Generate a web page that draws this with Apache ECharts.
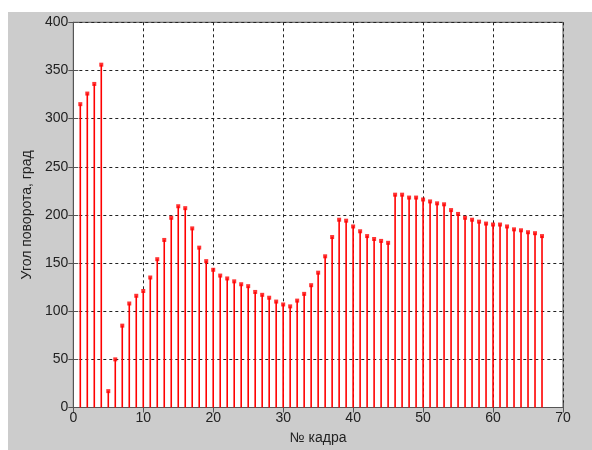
<!DOCTYPE html>
<html>
<head>
<meta charset="utf-8">
<script src="https://cdn.jsdelivr.net/npm/echarts@6/dist/echarts.min.js"></script>
<style>
html,body{margin:0;padding:0;background:#fff;}
#bg{position:absolute;left:8px;top:12px;width:584px;height:438px;background:#cccccc;}
#chart{position:absolute;left:0;top:0;width:592px;height:450px;}
</style>
</head>
<body>
<div id="bg"></div>
<div id="chart"></div>
<script>
const frames = [1,2,3,4,5,6,7,8,9,10,11,12,13,14,15,16,17,18,19,20,21,22,23,24,25,26,27,28,29,30,31,32,33,34,35,36,37,38,39,40,41,42,43,44,45,46,47,48,49,50,51,52,53,54,55,56,57,58,59,60,61,62,63,64,65,66,67];
const angles = [315,326,336,356,17,50,85,108,116,121,135,154,174,197,209,207,186,166,152,143,137,134,131,128,126,120,117,114,110,107,105,111,118,127,140,157,177,195,194,188,183,178,175,173,171,221,221,218,218,216,214,212,211,205,201,197,195,193,191,190,190,188,185,184,182,181,178];
const xTicks = [0,10,20,30,40,50,60,70];
const yTicks = [0,50,100,150,200,250,300,350,400];
const xName = '№ кадра';
const yName = 'Угол поворота, град';

const pts = frames.map((f,i)=>[f, angles[i]]);
const chart = echarts.init(document.getElementById('chart'), null, {renderer:'canvas'});
const font = 'Liberation Sans, Arial, sans-serif';
const gridLine = {show:true, lineStyle:{color:'#222', type:[3,3], width:1}};
chart.setOption({
  animation:false,
  backgroundColor:'transparent',
  grid:{left:73.3, right:29, top:22.3, bottom:42.3, show:true, backgroundColor:'#fff', borderColor:'#555', borderWidth:1},
  xAxis:[{
    type:'value', min:xTicks[0], max:xTicks[xTicks.length-1], interval:10,
    name:xName, nameLocation:'middle', nameGap:23.5,
    nameTextStyle:{color:'#222', fontSize:14, fontFamily:font},
    axisLine:{show:true, lineStyle:{color:'#555', width:1}},
    axisTick:{show:true, inside:true, length:5, lineStyle:{color:'#555'}},
    axisLabel:{color:'#222', fontSize:14, fontFamily:font, margin:4},
    splitLine:gridLine
  },{
    type:'value', position:'top', min:0, max:70, interval:10,
    axisLine:{show:true, lineStyle:{color:'#555'}},
    axisTick:{show:true, inside:true, length:5, lineStyle:{color:'#555'}},
    axisLabel:{show:false}, splitLine:{show:false}
  }],
  yAxis:[{
    type:'value', min:yTicks[0], max:yTicks[yTicks.length-1], interval:50,
    name:yName, nameLocation:'middle', nameGap:39, nameRotate:90,
    nameTextStyle:{color:'#222', fontSize:14, fontFamily:font},
    axisLine:{show:true, lineStyle:{color:'#555', width:1}},
    axisTick:{show:true, inside:true, length:5, lineStyle:{color:'#555'}},
    axisLabel:{color:'#222', fontSize:14, fontFamily:font, margin:5},
    splitLine:gridLine
  },{
    type:'value', position:'right', min:0, max:400, interval:50,
    axisLine:{show:true, lineStyle:{color:'#555'}},
    axisTick:{show:true, inside:true, length:5, lineStyle:{color:'#555'}},
    axisLabel:{show:false}, splitLine:{show:false}
  }],
  series:[{
    type:'custom',
    data:pts,
    renderItem:function(params, api){
      const p0 = api.coord([api.value(0), 0]);
      const p1 = api.coord([api.value(0), api.value(1)]);
      return {type:'line', shape:{x1:p0[0], y1:p0[1], x2:p1[0], y2:p1[1]},
        style:{stroke:'#ff0000', lineWidth:1.6}};
    },
    z:3
  },{
    type:'scatter', data:pts, symbol:'rect', symbolSize:4,
    itemStyle:{color:'#ff0000'}, z:4
  }]
});
</script>
</body>
</html>
